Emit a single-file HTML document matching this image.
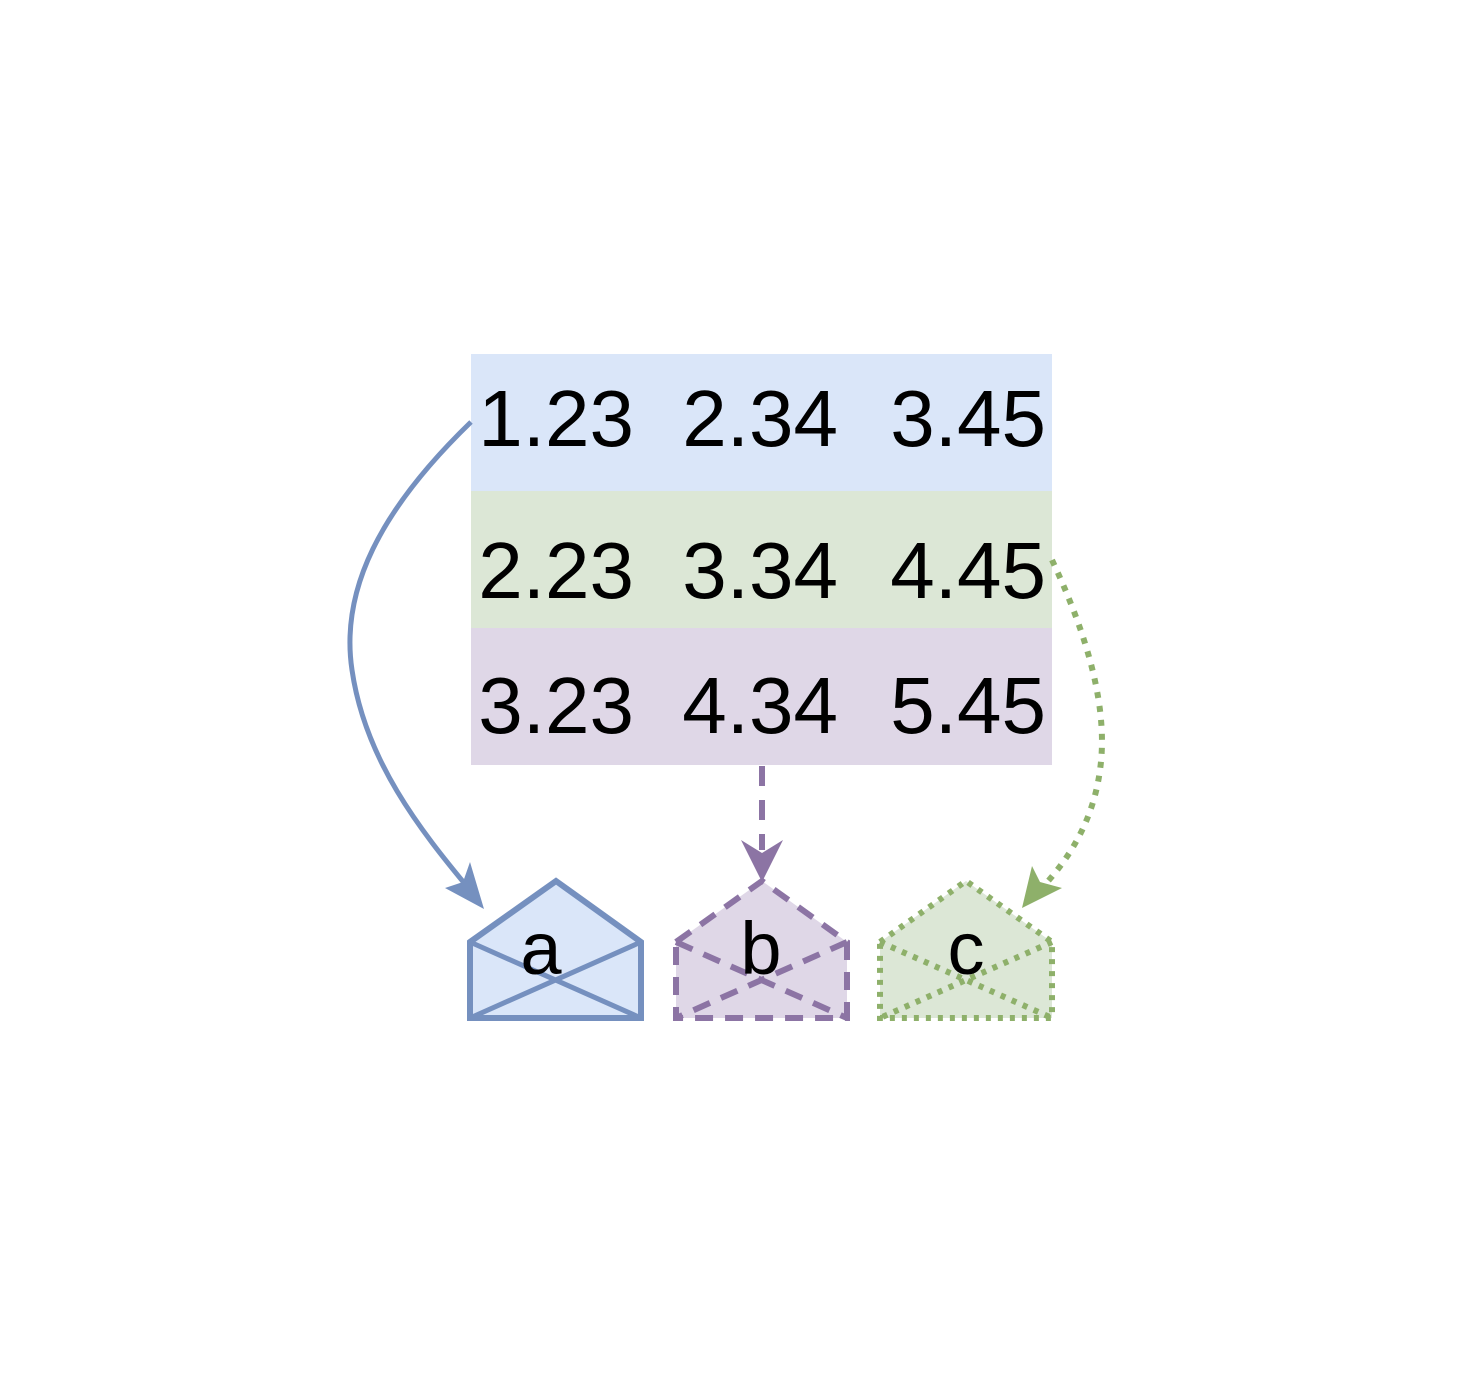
<!DOCTYPE html>
<html><head><meta charset="utf-8"><style>
html,body{margin:0;padding:0;background:#fff;}
svg{display:block;font-family:"Liberation Sans",Arial,sans-serif;}
</style></head><body>
<svg width="1481" height="1375" viewBox="0 0 1481 1375">
<g>
<rect x="471" y="354" width="581" height="137" fill="#dae6f9"/>
<rect x="471" y="491" width="581" height="137" fill="#dce7d6"/>
<rect x="471" y="628" width="581" height="137" fill="#dfd7e7"/>
<g font-size="80" fill="#000" text-anchor="end">
<text x="634" y="446">1.23</text>
<text x="838" y="446">2.34</text>
<text x="1046" y="446">3.45</text>
<text x="634" y="598">2.23</text>
<text x="838" y="598">3.34</text>
<text x="1046" y="598">4.45</text>
<text x="634" y="733">3.23</text>
<text x="838" y="733">4.34</text>
<text x="1046" y="733">5.45</text>
</g>
</g>
<g>
<path d="M471,422 C380,510 340,590 352,670 C365,760 420,830 470,890" fill="none" stroke="#7590bf" stroke-width="5"/>
<polygon points="484,909 445,888 463,882 470,862" fill="#7590bf"/>
</g>
<g>
<line x1="762" y1="766" x2="762" y2="850" stroke="#8c74a4" stroke-width="6" stroke-dasharray="20,14"/>
<polygon points="762,882 741,840 762,853 783,840" fill="#8c74a4"/>
</g>
<g>
<path d="M1052,560 C1080,620 1110,700 1100,770 C1092,830 1060,870 1035,895" fill="none" stroke="#8eb06a" stroke-width="6" stroke-dasharray="6,8"/>
<polygon points="1022,908 1032,866 1040,882 1062,888" fill="#8eb06a"/>
</g>
<g>
<path d="M470,942 L556,881 L641,942 L641,1018 L470,1018 Z" fill="#dae6f9" stroke="#7590bf" stroke-width="6"/>
<path d="M470,942 L641,1018 M641,942 L470,1018" stroke="#7590bf" stroke-width="5"/>
<text x="541" y="974" font-size="74" text-anchor="middle">a</text>
</g>
<g>
<path d="M676,942 L762,881 L847,942 L847,1018 L676,1018 Z" fill="#dfd7e7" stroke="#8c74a4" stroke-width="6" stroke-dasharray="18,12"/>
<path d="M676,942 L847,1018 M847,942 L676,1018" stroke="#8c74a4" stroke-width="6" stroke-dasharray="18,12"/>
<text x="761" y="974" font-size="74" text-anchor="middle">b</text>
</g>
<g>
<path d="M880,942 L966,881 L1052,942 L1052,1018 L880,1018 Z" fill="#dce7d6" stroke="#8eb06a" stroke-width="6" stroke-dasharray="5,7"/>
<path d="M880,942 L1052,1018 M1052,942 L880,1018" stroke="#8eb06a" stroke-width="6" stroke-dasharray="5,7"/>
<text x="966" y="974" font-size="74" text-anchor="middle">c</text>
</g>
</svg>
</body></html>
